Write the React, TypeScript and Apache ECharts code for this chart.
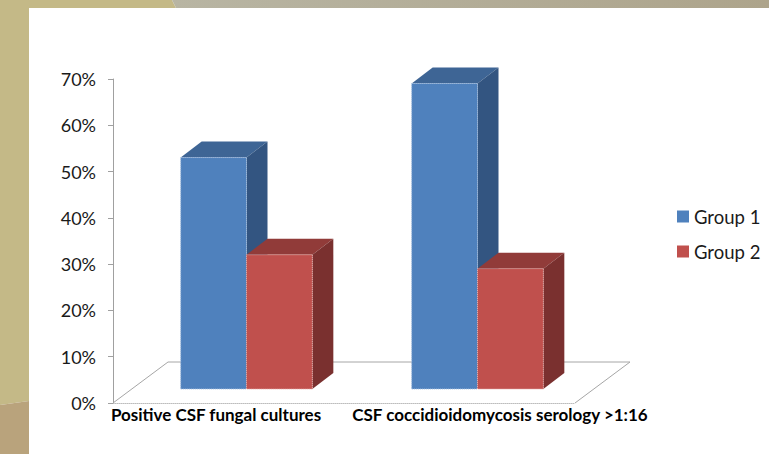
import React, { useEffect, useRef } from "react";
import * as echarts from "echarts";

const categories = ["Positive CSF fungal cultures", "CSF coccidioidomycosis serology >1:16"];
const seriesNames = ["Group 1", "Group 2"];
const group1Values = [0.5, 0.66];
const group2Values = [0.29, 0.26];
const yMin = 0;
const yMax = 0.7;
const yInterval = 0.1;

const FONT = "Lato, 'Open Sans', sans-serif";
// 3D projection offsets
const FLOOR_DX = 55;
const FLOOR_DY = -41;
const FRONT_DX = 18;
const FRONT_DY = -14;
const DEPTH_DX = 21;
const DEPTH_DY = -16;
const BAR_FRAC = 0.285;

type Palette = { front: string; top: string; side: string; edge: string };
const blue: Palette = { front: "#4f81bd", top: "#3e6595", side: "#335581", edge: "#a8c0e0" };
const red: Palette = { front: "#c0504d", top: "#913b39", side: "#7a302f", edge: "#e3aaa8" };

function makeBarRender(slot: number, pal: Palette) {
  return (params: any, api: any) => {
    const idx = api.value(0);
    const v = api.value(1);
    const base = api.coord([idx, 0]);
    const top = api.coord([idx, v]);
    const band = api.size([1, 0])[0];
    const w = band * BAR_FRAC;
    const x = base[0] - w + slot * w + FRONT_DX;
    const yb = base[1] + FRONT_DY;
    const yt = top[1] + FRONT_DY;
    return {
      type: "group",
      children: [
        {
          type: "polygon",
          shape: { points: [[x, yt], [x + DEPTH_DX, yt + DEPTH_DY], [x + w + DEPTH_DX, yt + DEPTH_DY], [x + w, yt]] },
          style: { fill: pal.top },
        },
        {
          type: "polygon",
          shape: { points: [[x + w, yt], [x + w + DEPTH_DX, yt + DEPTH_DY], [x + w + DEPTH_DX, yb + DEPTH_DY], [x + w, yb]] },
          style: { fill: pal.side },
        },
        {
          type: "rect",
          shape: { x, y: yt, width: w, height: yb - yt },
          style: { fill: pal.front, stroke: pal.edge, lineWidth: 1, lineDash: [1, 1] },
        },
      ],
    };
  };
}

function floorRender(params: any) {
  const cs = params.coordSys;
  const x0 = cs.x;
  const x1 = cs.x + cs.width;
  const yb = cs.y + cs.height;
  return {
    type: "polyline",
    shape: {
      points: [
        [x0, yb],
        [x0 + FLOOR_DX, yb + FLOOR_DY],
        [x1 + FLOOR_DX, yb + FLOOR_DY],
        [x1, yb],
      ],
    },
    style: { stroke: "#a6a6a6", lineWidth: 1, fill: null },
  };
}

export default function App() {
  const ref = useRef<HTMLDivElement>(null);
  useEffect(() => {
    if (!ref.current) return;
    const chart = echarts.init(ref.current, null, { renderer: "svg" });
    chart.setOption({
      animation: false,
      backgroundColor: "#ffffff",
      graphic: [
        { type: "polygon", z: -10, shape: { points: [[0, 0], [29, 0], [29, 401], [0, 405]] }, style: { fill: "#c4b987" } },
        { type: "polygon", z: -10, shape: { points: [[0, 405], [29, 401], [29, 454], [0, 454]] }, style: { fill: "#b9a37c" } },
        { type: "polygon", z: -10, shape: { points: [[0, 0], [172, 0], [176, 8], [0, 8]] }, style: { fill: "#c4b987" } },
        {
          type: "polygon",
          z: -10,
          shape: { points: [[172, 0], [769, 0], [769, 8], [176, 8]] },
          style: {
            fill: new echarts.graphic.LinearGradient(0, 0, 1, 0, [
              { offset: 0, color: "#b8b5a3" },
              { offset: 1, color: "#ada48b" },
            ]),
          },
        },
      ],
      legend: {
        data: seriesNames,
        orient: "vertical",
        left: 672,
        top: 202,
        itemWidth: 12,
        itemHeight: 12,
        itemGap: 16,
        icon: "rect",
        textStyle: { fontFamily: FONT, fontSize: 18.5, color: "#1a1a1a" },
      },
      grid: { left: 113, top: 79, width: 462, height: 324 },
      xAxis: {
        type: "category",
        data: categories,
        axisLine: { show: true, lineStyle: { color: "#bdbdbd", type: "dotted" } },
        axisTick: { show: false },
        axisLabel: {
          margin: 3,
          interval: 0,
          formatter: (value: string, index: number) => (index === 0 ? `{a|${value}}` : `{b|${value}}`),
          rich: {
            a: { fontFamily: FONT, fontWeight: "bold", fontSize: 17, color: "#000", padding: [0, 25, 0, 0] },
            b: { fontFamily: FONT, fontWeight: "bold", fontSize: 17, color: "#000", padding: [0, 0, 0, 81] },
          },
        },
      },
      yAxis: {
        type: "value",
        min: yMin,
        max: yMax,
        interval: yInterval,
        axisLine: { show: true, lineStyle: { color: "#a0a0a0" } },
        axisTick: { show: true, length: 5, lineStyle: { color: "#a0a0a0" } },
        splitLine: { show: false },
        axisLabel: {
          margin: 17,
          fontFamily: FONT,
          fontSize: 18,
          color: "#1a1a1a",
          formatter: (v: number) => `${Math.round(v * 100)}%`,
        },
      },
      series: [
        {
          type: "custom",
          name: "floor",
          silent: true,
          z: 1,
          renderItem: floorRender,
          data: [[0, 0]],
          encode: { x: 0, y: 1 },
        },
        {
          type: "custom",
          name: seriesNames[0],
          z: 2,
          itemStyle: { color: blue.front },
          renderItem: makeBarRender(0, blue),
          data: group1Values.map((v, i) => [i, v]),
          encode: { x: 0, y: 1 },
        },
        {
          type: "custom",
          name: seriesNames[1],
          z: 3,
          itemStyle: { color: red.front },
          renderItem: makeBarRender(1, red),
          data: group2Values.map((v, i) => [i, v]),
          encode: { x: 0, y: 1 },
        },
      ],
    });
    return () => chart.dispose();
  }, []);
  return <div ref={ref} style={{ position: "fixed", left: 0, top: 0, width: 769, height: 454 }} />;
}
